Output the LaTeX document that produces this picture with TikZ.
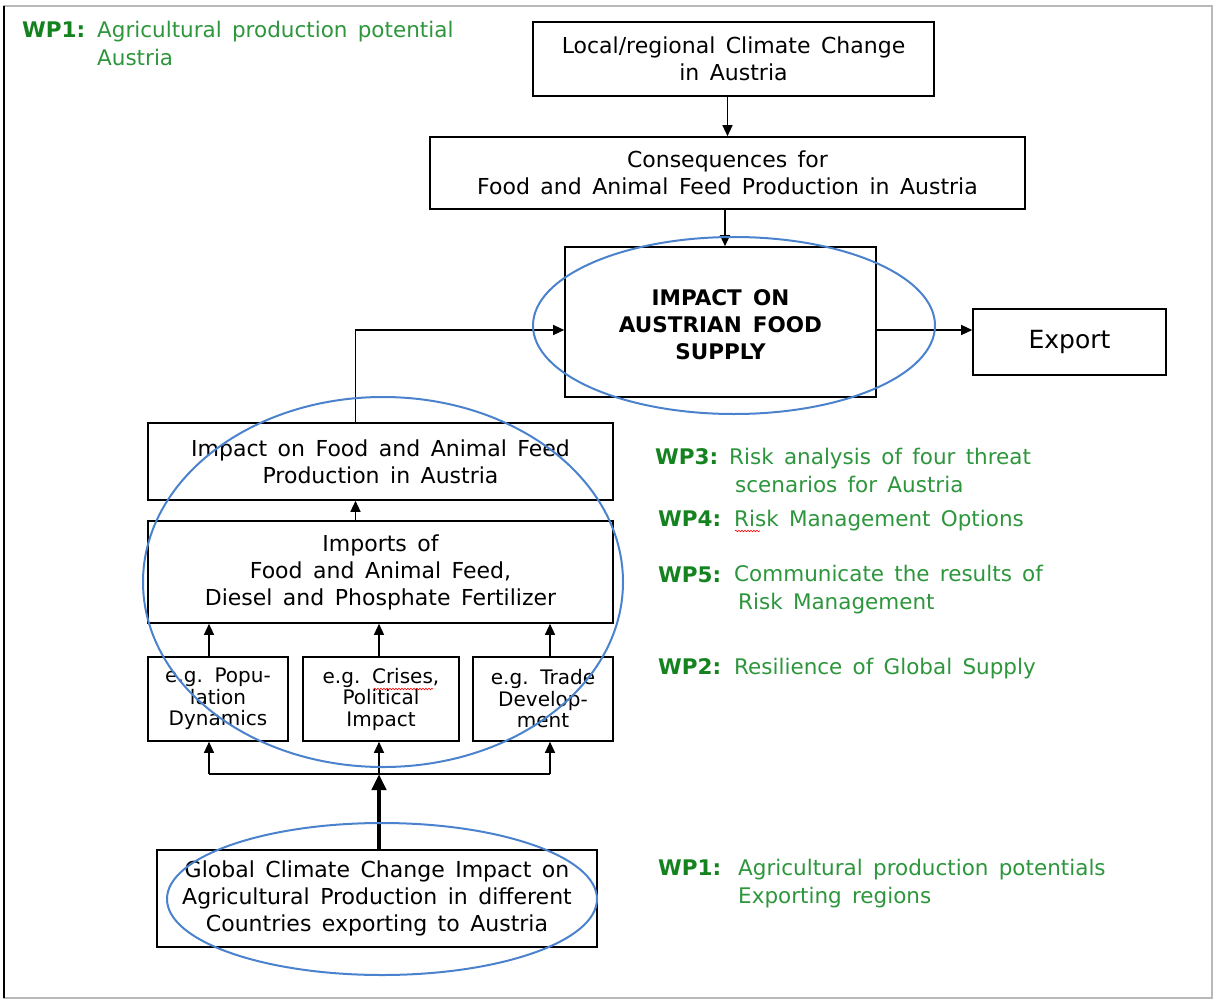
\documentclass[tikz,border=0pt]{standalone}
\usepackage{fontspec}
\setmainfont{DejaVu Sans}[WordSpace=1.5]
\usetikzlibrary{arrows.meta, positioning, decorations.pathmorphing}
\definecolor{wpdark}{RGB}{20,130,30}
\definecolor{wplight}{RGB}{45,150,60}
\definecolor{ringblue}{RGB}{75,130,205}

\begin{document}
\begin{tikzpicture}[x=1pt, y=-1pt,
  box/.style={draw, line width=1.6pt, align=center, inner sep=0pt,
    font=\fontsize{22}{27}\selectfont},
  smallbox/.style={box, minimum width=140pt, minimum height=84pt,
    font=\fontsize{20}{21.5}\selectfont},
  wplab/.style={anchor=base west, inner sep=0pt, text=wpdark,
    font=\fontsize{21.5}{28}\selectfont\bfseries},
  wptext/.style={anchor=base west, inner sep=0pt, align=left, text=wplight,
    font=\fontsize{21.5}{28}\selectfont},
  ring/.style={draw=ringblue, line width=2pt},
  flow/.style={line width=1.3pt, arrows={-Triangle[length=11pt,width=10pt]}}]
  \useasboundingbox (0,0) rectangle (1217,1001);
  \draw[gray!55, line width=2pt] (4,6) rectangle (1212,998);
  \draw[line width=2pt] (4,6) -- (4,998);

  % Austria side
  \node[box, minimum width=401pt, minimum height=74pt] (local) at (733.5,59) {Local/regional Climate Change\\in Austria};
  \node[box, minimum width=595pt, minimum height=72pt] (conseq) at (727.5,173) {Consequences for\\Food and Animal Feed Production in Austria};
  \node[box, minimum width=311pt, minimum height=150pt, font=\fontsize{21.5}{27}\selectfont\bfseries] (impact) at (720.5,322) {\\[-6pt]IMPACT ON\\AUSTRIAN FOOD\\SUPPLY};
  \node[box, minimum width=193pt, minimum height=66pt, font=\fontsize{25}{30}\selectfont] (export) at (1069.5,342) {Export};

  % global side
  \node[box, minimum width=465pt, minimum height=77pt] (prod) at (380.5,461.5) {Impact on Food and Animal Feed\\Production in Austria};
  \node[box, minimum width=465pt, minimum height=102pt] (imports) at (380.5,572) {Imports of\\Food and Animal Feed,\\Diesel and Phosphate Fertilizer};
  \node[smallbox] (pop) at (218,699) {e.g. Popu-\\lation\\Dynamics};
  \node[smallbox, minimum width=156pt] (crises) at (381,699) {e.g. Crises,\\Political\\Impact};
  \node[smallbox] (trade) at (543,699) {e.g. Trade\\Develop-\\ment};
  \node[box, minimum width=440pt, minimum height=97pt] (global) at (377,898.5) {Global Climate Change Impact on\\Agricultural Production in different\\Countries exporting to Austria};

  \coordinate (b1) at (209,774);
  \coordinate (b2) at (379,774);
  \coordinate (b3) at (550,774);

  \draw[flow] (conseq.north |- local.south) -- (conseq.north);
  \draw[flow] (conseq.south -| 725,0) -- (impact.north -| 725,0);
  \draw[flow] ([yshift=-8pt]impact.east) -- ([yshift=-8pt]impact.east -| export.west);
  \draw[flow] ([xshift=-25pt]prod.north) |- ([yshift=-8pt]impact.west);
  \draw[flow] ([xshift=-25pt]imports.north) -- ([xshift=-25pt]prod.south);
  \draw[flow] (pop.north -| b1) -- (imports.south -| b1);
  \draw[flow] (crises.north -| b2) -- (imports.south -| b2);
  \draw[flow] (trade.north -| b3) -- (imports.south -| b3);
  \draw[line width=1.3pt] (b1) -- (b3);
  \draw[flow] (b1) -- (pop.south -| b1);
  \draw[flow] (b2) -- (crises.south -| b2);
  \draw[flow] (b3) -- (trade.south -| b3);
  \draw[line width=4pt, arrows={-Triangle[length=16pt,width=14pt]}] (global.north -| b2) -- (b2);

  % spell-check marks
  \draw[red, line width=0.6pt, decorate, decoration={snake, amplitude=0.8pt, segment length=3pt}] (374,689) -- (433,689);
  \draw[red, line width=0.6pt, decorate, decoration={snake, amplitude=0.8pt, segment length=3pt}] (735,531) -- (760,531);

  % work packages (multi-line texts sit on their last baseline)
  \node[wplab] (wp1a) at (22,37) {WP1:};
  \node[wptext] (wp1at) at (97,65) {Agricultural production potential\\Austria};
  \node[wplab] (wp3) at (655,464) {WP3:};
  \node[wptext] (wp3t) at (729,492) {Risk analysis of four threat\\\hspace*{6pt}scenarios for Austria};
  \node[wplab] (wp4) at (658,526) {WP4:};
  \node[wptext] (wp4t) at (734,526) {Risk Management Options};
  \node[wplab] (wp5) at (658,582) {WP5:};
  \node[wptext] (wp5t) at (734,609) {Communicate the results of\\\hspace*{4pt}Risk Management};
  \node[wplab] (wp2) at (658,674) {WP2:};
  \node[wptext] (wp2t) at (734,674) {Resilience of Global Supply};
  \node[wplab] (wp1b) at (658,875) {WP1:};
  \node[wptext] (wp1bt) at (738,903) {Agricultural production potentials\\Exporting regions};

  % highlighted areas
  \draw[ring] (734,325.5) ellipse [x radius=201, y radius=88.5];
  \draw[ring] (383,582) ellipse [x radius=240, y radius=185];
  \draw[ring] (382,899) ellipse [x radius=215, y radius=76];
\end{tikzpicture}
\end{document}
